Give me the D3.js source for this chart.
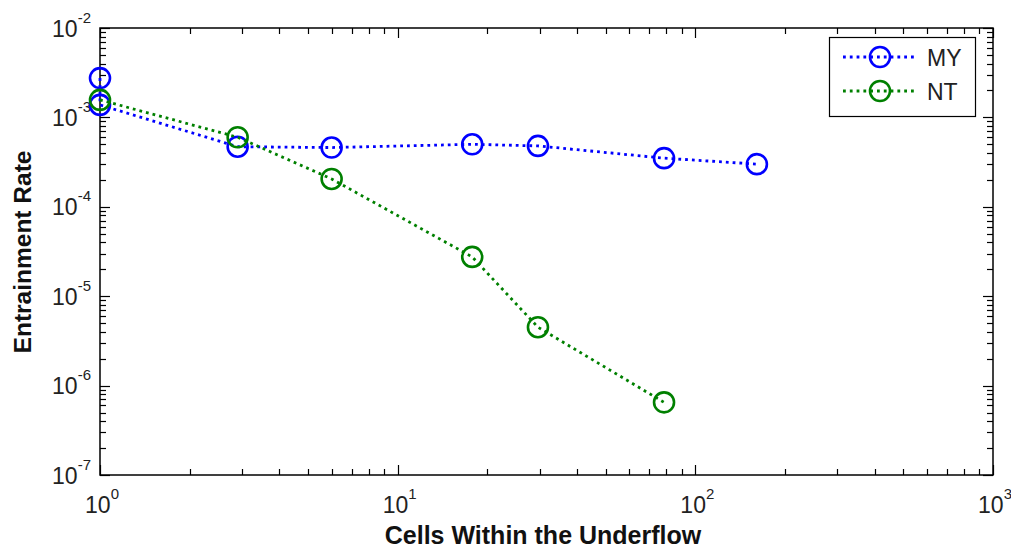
<!DOCTYPE html>
<html>
<head>
<meta charset="utf-8">
<script src="https://cdn.jsdelivr.net/npm/d3@7"></script>
<style>
  html, body { margin: 0; padding: 0; background: #fff; }
  svg { display: block; font-family: "Liberation Sans", Arial, Helvetica, sans-serif; }
</style>
</head>
<body>
<svg id="chart" width="1011" height="551"></svg>
<script>
// Number of cells within the underflow vs. entrainment rate (log-log)
const seriesNames = ["MY", "NT"];
const seriesColors = ["#0000ff", "#008000"];
const myCells = [1, 1, 2.9, 6, 17.8, 29.6, 78.5, 161];
const myRate = [2.75e-3, 1.38e-3, 4.7e-4, 4.6e-4, 5.0e-4, 4.8e-4, 3.5e-4, 3.0e-4];
const ntCells = [1, 2.9, 6, 17.8, 29.6, 78.5];
const ntRate = [1.57e-3, 6.0e-4, 2.05e-4, 2.75e-5, 4.5e-6, 6.5e-7];
const xTickExponents = [0, 1, 2, 3];
const yTickExponents = [-7, -6, -5, -4, -3, -2];
const xLabel = "Cells Within the Underflow";
const yLabel = "Entrainment Rate";

const svg = d3.select("#chart");
const plot = { left: 100, right: 993, top: 28, bottom: 475 };

const x = d3.scaleLog().domain([1, 1000]).range([plot.left, plot.right]);
const y = d3.scaleLog().domain([1e-7, 1e-2]).range([plot.bottom, plot.top]);

// Tick marks (inward on all four sides)
const xMajor = xTickExponents.map(e => Math.pow(10, e));
const yMajor = yTickExponents.map(e => Math.pow(10, e));
const minorOf = (majors) => {
  const out = [];
  for (let i = 0; i < majors.length - 1; i++)
    for (let k = 2; k <= 9; k++) out.push(majors[i] * k);
  return out;
};
const xMinor = minorOf(xMajor);
const yMinor = minorOf(yMajor);

const ticks = svg.append("g").attr("stroke", "#000").attr("stroke-width", 1.2);
function xTicks(vals, len) {
  vals.forEach(v => {
    const px = Math.round(x(v)) + 0.5;
    ticks.append("line").attr("x1", px).attr("x2", px).attr("y1", plot.bottom).attr("y2", plot.bottom - len);
    ticks.append("line").attr("x1", px).attr("x2", px).attr("y1", plot.top).attr("y2", plot.top + len);
  });
}
function yTicks(vals, len) {
  vals.forEach(v => {
    const py = Math.round(y(v)) + 0.5;
    ticks.append("line").attr("x1", plot.left).attr("x2", plot.left + len).attr("y1", py).attr("y2", py);
    ticks.append("line").attr("x1", plot.right).attr("x2", plot.right - len).attr("y1", py).attr("y2", py);
  });
}
xTicks(xMinor, 6); xTicks(xMajor, 10);
yTicks(yMinor, 6); yTicks(yMajor, 10);

// Axes box
svg.append("rect")
  .attr("x", plot.left).attr("y", plot.top)
  .attr("width", plot.right - plot.left).attr("height", plot.bottom - plot.top)
  .attr("fill", "none").attr("stroke", "#000").attr("stroke-width", 1.5);

// Tick labels: 10 with superscript exponent
const labelG = svg.append("g").attr("fill", "#222");
xTickExponents.forEach(e => {
  const t = labelG.append("text")
    .attr("x", x(Math.pow(10, e)) + 2).attr("y", 513)
    .attr("text-anchor", "middle").attr("font-size", 23);
  t.append("tspan").text("10");
  t.append("tspan").attr("font-size", 15).attr("dy", -14).text(e);
});
yTickExponents.forEach(e => {
  const t = labelG.append("text")
    .attr("x", 91).attr("y", y(Math.pow(10, e)) + 8.5)
    .attr("text-anchor", "end").attr("font-size", 23);
  t.append("tspan").text("10");
  t.append("tspan").attr("font-size", 15).attr("dy", -14).text(e);
});

// Axis titles
svg.append("text")
  .attr("x", 543).attr("y", 544)
  .attr("text-anchor", "middle").attr("font-weight", "bold").attr("font-size", 25)
  .attr("fill", "#111").text(xLabel);
svg.append("text")
  .attr("transform", "translate(31,252) rotate(-90)")
  .attr("text-anchor", "middle").attr("font-weight", "bold").attr("font-size", 24.5)
  .attr("fill", "#111").text(yLabel);

// Series
const series = [
  { name: seriesNames[0], color: seriesColors[0], xs: myCells, ys: myRate },
  { name: seriesNames[1], color: seriesColors[1], xs: ntCells, ys: ntRate }
];
const line = d3.line().x(d => x(d[0])).y(d => y(d[1]));

series.forEach(s => {
  const pts = s.xs.map((v, i) => [v, s.ys[i]]);
  const g = svg.append("g");
  g.append("path").datum(pts).attr("d", line)
    .attr("fill", "none").attr("stroke", s.color)
    .attr("stroke-width", 2.8).attr("stroke-dasharray", "2.8,4");
  g.selectAll("circle").data(pts).join("circle")
    .attr("cx", d => x(d[0])).attr("cy", d => y(d[1])).attr("r", 10)
    .attr("fill", "none").attr("stroke", s.color).attr("stroke-width", 2.6);
});

// Legend
const legend = svg.append("g");
legend.append("rect").attr("x", 829.5).attr("y", 37.5).attr("width", 146).attr("height", 79)
  .attr("fill", "#fff").attr("stroke", "#000").attr("stroke-width", 1.2);
series.forEach((s, i) => {
  const ly = 57 + i * 34;
  legend.append("line").attr("x1", 843).attr("x2", 916).attr("y1", ly).attr("y2", ly)
    .attr("stroke", s.color).attr("stroke-width", 2.8).attr("stroke-dasharray", "2.8,4");
  legend.append("circle").attr("cx", 880).attr("cy", ly).attr("r", 10)
    .attr("fill", "none").attr("stroke", s.color).attr("stroke-width", 2.6);
  legend.append("text").attr("x", 927).attr("y", ly + 9).attr("font-size", 23)
    .attr("fill", "#222").text(s.name);
});
</script>
</body>
</html>
